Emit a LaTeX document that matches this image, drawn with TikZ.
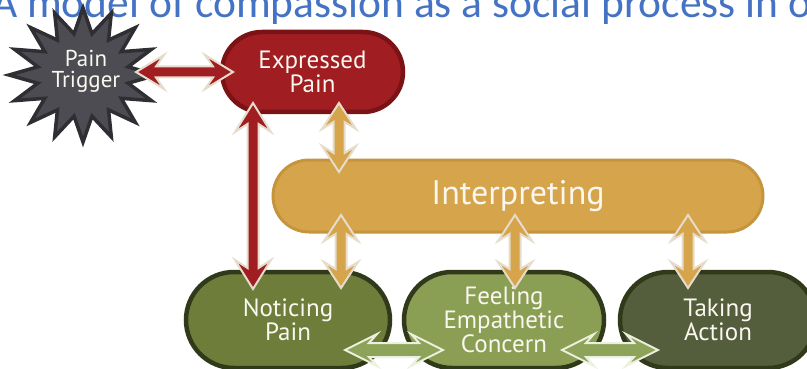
\documentclass[tikz,border=0pt]{standalone}
\usepackage{fontspec}
\setmainfont{PT Sans}
\newfontfamily\titlefont{Carlito}
\usetikzlibrary{calc,shapes.misc}
\definecolor{titleblue}{RGB}{68,114,196}
\definecolor{redfill}{RGB}{160,29,34}
\definecolor{redline}{RGB}{122,18,22}
\definecolor{goldfill}{RGB}{214,164,74}
\definecolor{goldline}{RGB}{198,148,60}
\definecolor{olivefill}{RGB}{110,125,58}
\definecolor{lightolive}{RGB}{138,158,84}
\definecolor{darkolive}{RGB}{85,94,60}
\definecolor{greenline}{RGB}{48,58,26}
\definecolor{starfill}{RGB}{76,76,82}
\definecolor{starline}{RGB}{46,46,51}
\definecolor{edgebeige}{RGB}{230,220,203}
\definecolor{edgegreen}{RGB}{236,240,222}
\definecolor{labelwhite}{RGB}{250,247,240}
\definecolor{arrowgreen}{RGB}{142,163,90}
\newcommand\dblarrow[7]{%
 \filldraw[#1] (#2) -- ($(#2)!#4!(#3)!#6!90:(#3)$) -- ($(#2)!#5!(#3)!#7!90:(#3)$)
  -- ($(#3)!#5!(#2)!#7!-90:(#2)$) -- ($(#3)!#4!(#2)!#6!-90:(#2)$) -- (#3)
  -- ($(#3)!#4!(#2)!#6!90:(#2)$) -- ($(#3)!#5!(#2)!#7!90:(#2)$)
  -- ($(#2)!#5!(#3)!#7!-90:(#3)$) -- ($(#2)!#4!(#3)!#6!-90:(#3)$) -- cycle;}
\tikzset{
 pill/.style={rounded rectangle, text=labelwhite, align=center, inner sep=0pt,
   font=\fontsize{25}{24}\selectfont},
 greenpill/.style={pill, draw=greenline, line width=4.5pt, minimum height=96},
 redarrow/.style={fill=redfill, draw=edgebeige, line width=2pt, line join=miter},
 goldarrow/.style={fill=goldfill, draw=edgebeige, line width=2pt, line join=miter},
 greenarrow/.style={fill=arrowgreen, draw=edgegreen, line width=2pt, line join=miter},
}
\begin{document}
\begin{tikzpicture}[x=1pt,y=-1pt]
\useasboundingbox (0,0) rectangle (807,369);
\clip (0,0) rectangle (807,369);
\fill[white] (0,0) rectangle (807,369);
% title
\node[anchor=base west, inner sep=0pt, text=titleblue,
  font=\titlefont\fontsize{43.5}{44}\selectfont] (title) at (-8,18)
  {A model of compassion as a social process in o};
% star
\filldraw[fill=starfill, draw=starline, line width=3.5pt, line join=miter]
  ({83+74*cos(90)},{75-67*sin(90)})
  \foreach \k in {0,...,15}{
    -- ({83+46*cos(90+\k*22.5+11.25)},{75-42*sin(90+\k*22.5+11.25)})
    -- ({83+74*cos(90+(\k+1)*22.5)},{75-67*sin(90+(\k+1)*22.5)})
  } -- cycle;
\node[align=center, inner sep=0pt, text=labelwhite, font=\fontsize{23}{21}\selectfont]
  (pt) at (86,71) {Pain\\Trigger};
% nodes
\node[pill, fill=redfill, draw=redline, line width=4.5pt, minimum width=181, minimum height=80]
  (ep) at (312.5,72) {Expressed\\Pain};
\node[pill, fill=goldfill, draw=goldline, line width=3pt, minimum width=490, minimum height=72,
  font=\fontsize{34}{34}\selectfont] (in) at (518,196) {Interpreting};
\node[greenpill, fill=olivefill, minimum width=204] (np) at (288,320) {Noticing\\Pain};
\node[greenpill, fill=lightolive, minimum width=200] (fe) at (504,320) {Feeling\\Empathetic\\Concern};
\node[greenpill, fill=darkolive, minimum width=196] (ta) at (718,320) {Taking\\Action};
% arrow ends
\coordinate (r1a) at (136,72);  \coordinate (r1b) at (233,72);
\coordinate (r2a) at (253,103); \coordinate (r2b) at (253,289);
\coordinate (g1a) at (339,103); \coordinate (g1b) at (339,172);
\coordinate (g2a) at (341,215); \coordinate (g2b) at (341,288);
\coordinate (g3a) at (515,215); \coordinate (g3b) at (515,288);
\coordinate (g4a) at (688,215); \coordinate (g4b) at (688,288);
\coordinate (e1a) at (345,350); \coordinate (e1b) at (443,350);
\coordinate (e2a) at (562,350); \coordinate (e2b) at (658,350);
\dblarrow{redarrow}{r1a}{r1b}{28pt}{20pt}{17pt}{5.5pt}
\dblarrow{redarrow}{r2a}{r2b}{29pt}{21pt}{18pt}{5.5pt}
\dblarrow{goldarrow}{g1a}{g1b}{26pt}{19pt}{17pt}{5.5pt}
\dblarrow{goldarrow}{g2a}{g2b}{26pt}{19pt}{17pt}{5.5pt}
\dblarrow{goldarrow}{g3a}{g3b}{26pt}{19pt}{17pt}{5.5pt}
\dblarrow{goldarrow}{g4a}{g4b}{26pt}{19pt}{17pt}{5.5pt}
\dblarrow{greenarrow}{e1a}{e1b}{32pt}{24pt}{16pt}{7pt}
\dblarrow{greenarrow}{e2a}{e2b}{32pt}{24pt}{16pt}{7pt}
\end{tikzpicture}
\end{document}
